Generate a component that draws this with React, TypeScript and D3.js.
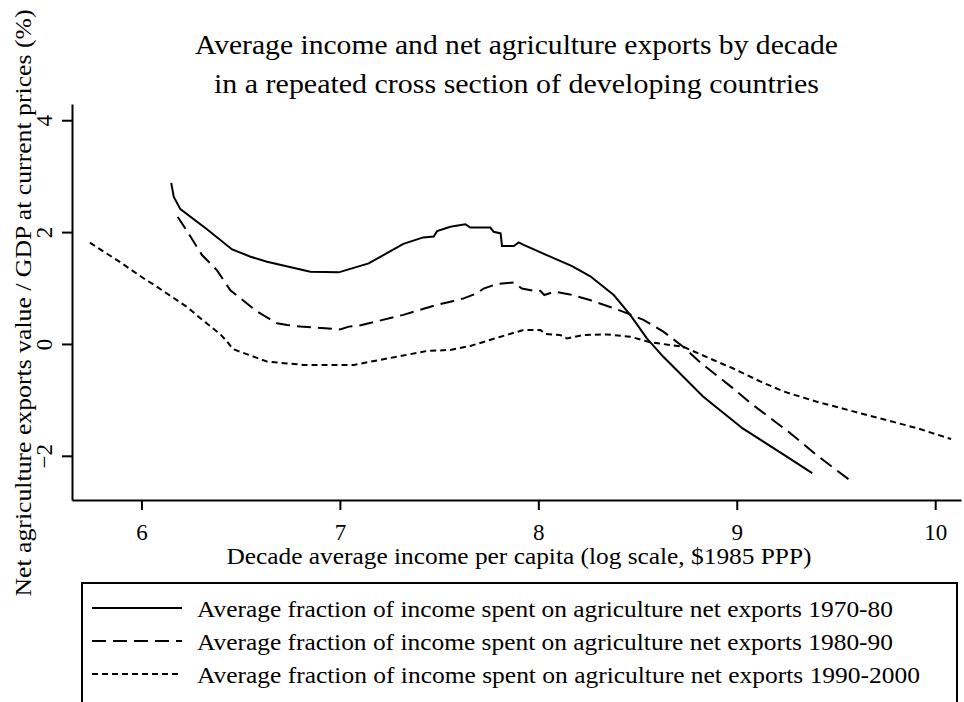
import * as d3 from 'd3';
import { useEffect, useRef } from 'react';

// log income per capita (x) vs net agriculture exports / GDP in % (y)
const x7080 = [6.15, 6.163, 6.196, 6.33, 6.457, 6.55, 6.633, 6.851, 6.994, 7.145, 7.32, 7.42, 7.473, 7.49, 7.557, 7.632, 7.657, 7.758, 7.775, 7.81, 7.817, 7.876, 7.901, 7.926, 8.06, 8.17, 8.262, 8.38, 8.463, 8.547, 8.63, 8.83, 9.03, 9.25, 9.38];
const y7080 = [2.88, 2.63, 2.41, 2.05, 1.69, 1.56, 1.47, 1.29, 1.28, 1.44, 1.79, 1.905, 1.92, 2.02, 2.095, 2.14, 2.08, 2.08, 2.005, 1.976, 1.75, 1.75, 1.815, 1.77, 1.56, 1.39, 1.21, 0.875, 0.52, 0.1, -0.23, -0.94, -1.51, -2.01, -2.31];

const x8090 = [6.183, 6.22, 6.247, 6.305, 6.38, 6.448, 6.582, 6.683, 6.734, 6.8, 7.0, 7.045, 7.1, 7.32, 7.49, 7.557, 7.624, 7.69, 7.724, 7.79, 7.876, 7.917, 7.99, 8.01, 8.03, 8.08, 8.16, 8.26, 8.38, 8.446, 8.53, 8.63, 8.73, 8.816, 8.98, 9.07, 9.27, 9.4, 9.59];
const y8090 = [2.27, 2.07, 1.92, 1.59, 1.32, 0.96, 0.58, 0.37, 0.34, 0.31, 0.26, 0.31, 0.33, 0.52, 0.7, 0.755, 0.815, 0.905, 0.99, 1.07, 1.1, 0.99, 0.945, 0.95, 0.875, 0.935, 0.885, 0.785, 0.64, 0.55, 0.43, 0.22, -0.05, -0.33, -0.79, -1.06, -1.595, -1.98, -2.49];

const x9000 = [5.74, 5.894, 6.012, 6.062, 6.23, 6.3, 6.398, 6.43, 6.46, 6.633, 6.818, 7.07, 7.24, 7.44, 7.557, 7.657, 7.81, 7.926, 8.01, 8.035, 8.11, 8.144, 8.228, 8.346, 8.463, 8.564, 8.73, 8.9, 8.98, 9.118, 9.236, 9.4, 9.656, 9.908, 10.08];
const y9000 = [1.81, 1.46, 1.17, 1.06, 0.66, 0.45, 0.17, 0.05, -0.09, -0.315, -0.375, -0.375, -0.26, -0.125, -0.107, -0.036, 0.13, 0.25, 0.25, 0.18, 0.16, 0.1, 0.16, 0.17, 0.13, 0.03, -0.05, -0.315, -0.435, -0.67, -0.85, -1.03, -1.27, -1.505, -1.7];

const xTicks = [6, 7, 8, 9, 10];
const yTicks = [-2, 0, 2, 4];

const seriesNames = [
  'Average fraction of income spent on agriculture net exports 1970-80',
  'Average fraction of income spent on agriculture net exports 1980-90',
  'Average fraction of income spent on agriculture net exports 1990-2000',
];
const dashes = ['none', '14,7', '6,4'];

const titleLines = [
  'Average income and net agriculture exports by decade',
  'in a repeated cross section of developing countries',
];
const xTitle = 'Decade average income per capita (log scale, $1985 PPP)';
const yTitle = 'Net agriculture exports value / GDP at current prices (%)';

export default function App() {
  const w = 964;
  const h = 702;
  const svgRef = useRef<SVGSVGElement>(null);

  useEffect(() => {
    if (svgRef.current == null) {
      return;
    }
    const font = '"Liberation Serif", "Times New Roman", serif';
    const svg = d3.select(svgRef.current);
    svg.selectAll('*').remove();

    const left = 72;
    const right = 961;
    const top = 104;
    const bottom = 500;

    const xScale = d3.scaleLinear().domain([5.65, 10.13]).range([left, right]);
    const yScale = d3.scaleLinear().domain([-2.79, 4.29]).range([bottom, top]);

    // title (the original type is a bit wider than Liberation Serif)
    const titleWidths = [643, 605];
    titleLines.forEach((t, i) => {
      svg
        .append('text')
        .attr('x', (left + right) / 2)
        .attr('y', 54 + i * 39)
        .attr('text-anchor', 'middle')
        .attr('textLength', titleWidths[i])
        .attr('lengthAdjust', 'spacingAndGlyphs')
        .style('font', `28px ${font}`)
        .text(t);
    });

    // x axis
    const xAxis = svg
      .append('g')
      .attr('transform', `translate(0, ${bottom})`)
      .call(d3.axisBottom(xScale).tickValues(xTicks).tickSize(10).tickSizeOuter(0).tickFormat(d3.format('d')));
    xAxis.select('.domain').attr('stroke-width', 2);
    xAxis.selectAll('.tick line').attr('stroke-width', 2);
    xAxis
      .selectAll('.tick text')
      .attr('y', 40)
      .attr('dy', 0)
      .style('font', `23px ${font}`);

    // y axis
    const yAxis = svg
      .append('g')
      .attr('transform', `translate(${left}, 0)`)
      .call(d3.axisLeft(yScale).tickValues(yTicks).tickSize(10).tickSizeOuter(0).tickFormat(d3.format('d')));
    yAxis.select('.domain').attr('stroke-width', 2);
    yAxis.selectAll('.tick line').attr('stroke-width', 2);
    yAxis
      .selectAll('.tick text')
      .attr('transform', 'rotate(-90)')
      .attr('x', 0)
      .attr('y', -20)
      .attr('dy', 0)
      .attr('text-anchor', 'middle')
      .style('font', `23px ${font}`);

    // axis titles
    svg
      .append('text')
      .attr('x', 519)
      .attr('y', 564)
      .attr('text-anchor', 'middle')
      .attr('textLength', 585)
      .attr('lengthAdjust', 'spacingAndGlyphs')
      .style('font', `24px ${font}`)
      .text(xTitle);
    svg
      .append('text')
      .attr('transform', `translate(31, 303) rotate(-90)`)
      .attr('text-anchor', 'middle')
      .attr('textLength', 587)
      .attr('lengthAdjust', 'spacingAndGlyphs')
      .style('font', `24px ${font}`)
      .text(yTitle);

    // curves
    const line = d3
      .line<[number, number]>()
      .x((d) => xScale(d[0]))
      .y((d) => yScale(d[1]));
    const series = [
      [x7080, y7080],
      [x8090, y8090],
      [x9000, y9000],
    ];
    series.forEach(([xs, ys], i) => {
      const pts = xs.map((x, j) => [x, ys[j]] as [number, number]);
      svg
        .append('path')
        .attr('d', line(pts))
        .attr('fill', 'none')
        .attr('stroke', 'black')
        .attr('stroke-width', 2)
        .attr('stroke-dasharray', dashes[i]);
    });

    // legend
    const legend = svg.append('g');
    legend
      .append('rect')
      .attr('x', 82)
      .attr('y', 583)
      .attr('width', 875)
      .attr('height', 130)
      .attr('fill', 'white')
      .attr('stroke', 'black')
      .attr('stroke-width', 2);
    const legendWidths = [696, 696, 723];
    seriesNames.forEach((name, i) => {
      const ly = 608 + i * 33;
      legend
        .append('line')
        .attr('x1', 92)
        .attr('x2', 182)
        .attr('y1', ly)
        .attr('y2', ly)
        .attr('stroke', 'black')
        .attr('stroke-width', 2)
        .attr('stroke-dasharray', dashes[i]);
      legend
        .append('text')
        .attr('x', 197)
        .attr('y', ly + 9)
        .attr('textLength', legendWidths[i])
        .attr('lengthAdjust', 'spacingAndGlyphs')
        .style('font', `23px ${font}`)
        .text(name);
    });
  }, []);

  return (
    <svg
      ref={svgRef}
      width={w}
      height={h}
      style={{ position: 'absolute', left: 0, top: 0, background: 'white' }}
    ></svg>
  );
}
